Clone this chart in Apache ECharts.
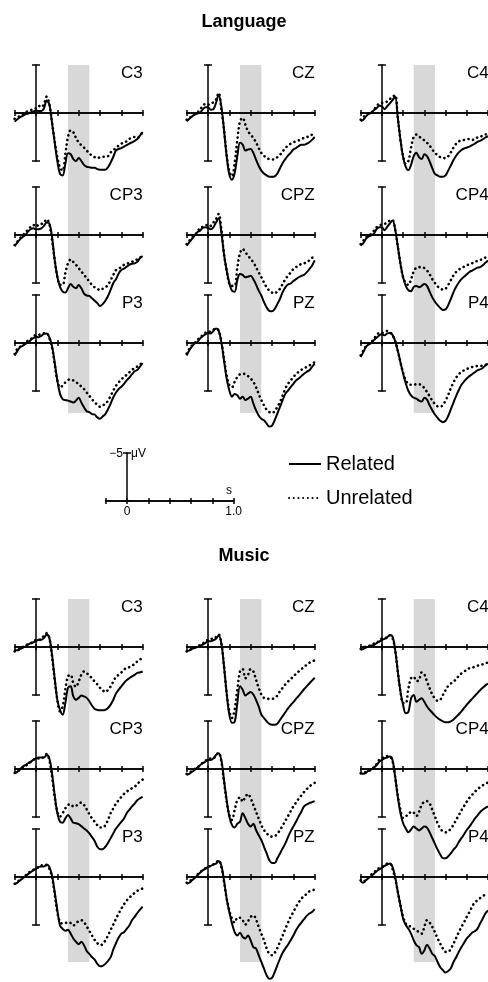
<!DOCTYPE html>
<html><head><meta charset="utf-8">
<script src="https://cdn.jsdelivr.net/npm/echarts@6/dist/echarts.min.js"></script>
<style>html,body{margin:0;padding:0;background:#fff}#c{width:488px;height:982px}</style>
</head><body><div id="c"></div>
<script>
// ---------- DATA ----------
const times = [-0.2,-0.175,-0.15,-0.125,-0.1,-0.075,-0.05,-0.025,0,0.025,0.05,0.075,0.1,0.125,0.15,0.175,0.2,0.225,0.25,0.275,0.3,0.325,0.35,0.375,0.4,0.425,0.45,0.475,0.5,0.525,0.55,0.575,0.6,0.625,0.65,0.675,0.7,0.725,0.75,0.775,0.8,0.825,0.85,0.875,0.9,0.925,0.95,0.975,1.0];
const sectionTitles = ['Language', 'Music'];
const electrodes = ['C3','CZ','C4','CP3','CPZ','CP4','P3','PZ','P4'];
const conditionNames = ['Related', 'Unrelated'];
const windowStart = 0.3, windowEnd = 0.5;   // shaded analysis window (s)
const scaleLabelsX = ['0', '1.0'];
const scaleLabelY = '\u22125';
const scaleUnitY = '\u03bcV';
const scaleUnitX = 's';

// Language (µV, negative up)
const langC3Rel  = [0.9,0.65,0.45,0.3,0.15,0.05,-0.05,-0.15,-0.25,-0.2,-0.2,-0.5,-1.3,-0.9,1.0,3.05,5.0,6.35,6.5,5.3,4.2,4.3,4.8,5.0,4.7,5.0,5.4,5.6,5.65,5.7,5.7,5.85,5.9,5.9,5.9,5.65,5.15,4.55,3.9,3.75,3.65,3.5,3.35,3.2,3.05,2.9,2.7,2.35,2.0];
const langC3Unr  = [0.6,0.45,0.3,0.1,-0.05,-0.2,-0.3,-0.4,-0.5,-0.75,-0.6,-0.95,-1.7,-0.95,1.0,2.9,4.6,5.7,6.0,4.3,2.5,1.8,2.0,2.6,3.05,3.35,3.6,3.9,4.2,4.45,4.6,4.7,4.6,4.55,4.55,4.5,4.1,3.9,3.6,3.4,3.2,3.05,2.95,2.7,2.6,2.5,2.6,2.35,2.0];
const langCZRel  = [0.85,0.6,0.35,0.15,0.05,-0.05,-0.35,-0.6,-0.6,-0.35,-0.4,-1.05,-1.9,-0.7,1.75,4.5,6.4,6.95,6.25,4.5,3.1,3.3,3.9,3.8,3.75,4.15,4.85,5.5,6.0,6.3,6.5,6.65,6.65,6.6,6.3,5.75,5.2,4.8,4.45,4.15,3.8,3.65,3.45,3.3,3.3,3.2,3.05,2.8,2.5];
const langCZUnr  = [0.7,0.5,0.35,0.15,-0.05,-0.35,-0.7,-0.95,-0.85,-1.05,-1.1,-1.4,-2.1,-0.4,1.7,4.4,6.1,6.6,5.2,2.8,0.85,0.5,1.2,1.9,2.25,2.6,3.05,3.65,4.15,4.45,4.7,4.8,4.85,4.8,4.6,4.35,4.0,3.65,3.4,3.2,3.05,2.95,2.85,2.7,2.6,2.5,2.45,2.25,2.1];
const langC4Rel  = [0.85,0.7,0.35,0.1,0,-0.3,-0.5,-0.75,-0.7,-0.4,-0.7,-1.0,-1.35,-1.7,0.5,2.8,4.6,5.6,5.95,5.4,4.5,4.15,4.6,4.8,4.3,4.5,5.05,5.75,6.35,6.5,6.65,6.65,6.5,6.0,5.45,4.9,4.45,4.1,3.85,3.7,3.6,3.5,3.35,3.2,3.0,2.9,2.75,2.55,2.4];
const langC4Unr  = [0.7,0.45,0.15,0,-0.05,-0.35,-0.7,-1.0,-1.05,-1.1,-1.2,-1.45,-1.7,-1.85,0.5,2.8,4.5,5.3,5.0,3.6,2.5,2.25,2.45,2.65,2.85,3.1,3.4,3.8,4.15,4.4,4.6,4.7,4.7,4.5,4.1,3.6,3.2,2.95,2.85,2.8,2.75,2.7,2.8,2.75,2.55,2.5,2.35,2.25,2.1];
const langCP3Rel = [1.15,0.8,0.45,0.2,0,-0.35,-0.6,-0.7,-0.6,-0.6,-0.7,-0.95,-1.3,-1.2,0.15,2.6,4.35,5.4,5.9,6.0,5.55,5.1,5.4,5.55,5.2,5.55,6.1,6.3,6.35,6.6,6.85,7.1,7.4,7.2,6.85,6.35,5.7,5.0,4.6,4.0,3.65,3.5,3.3,3.1,3.0,2.95,2.8,2.4,2.2];
const langCP3Unr = [1.05,0.7,0.35,0.05,-0.25,-0.55,-0.85,-1.05,-0.85,-1.1,-1.15,-1.3,-1.65,-1.15,0.5,2.6,4.35,5.2,5.2,4.0,2.95,2.55,2.8,3.1,3.45,3.8,4.15,4.5,4.85,5.2,5.45,5.6,5.75,5.6,5.45,5.2,4.7,4.15,3.65,3.5,3.35,3.1,3.0,2.9,2.8,2.6,2.55,2.35,2.2];
const langCPZRel = [1.1,0.75,0.4,0.05,-0.3,-0.45,-0.75,-0.8,-0.75,-0.6,-0.8,-1.3,-1.75,-0.3,2.0,3.7,5.0,5.8,5.9,4.7,4.05,4.15,4.4,4.35,4.25,4.6,5.15,5.8,6.3,7.0,7.55,7.9,7.95,7.7,7.2,6.65,5.95,5.45,5.15,5.05,4.8,4.6,4.4,4.25,4.15,3.9,3.55,3.2,2.65];
const langCPZUnr = [0.95,0.6,0.3,0,-0.3,-0.75,-0.85,-0.95,-1.1,-0.95,-1.3,-1.65,-2.2,-0.6,2.0,3.7,5.1,5.3,5.3,3.4,1.9,1.45,1.8,2.15,2.5,2.85,3.35,3.9,4.4,4.95,5.45,5.8,6.0,6.1,5.85,5.6,5.1,4.6,4.25,3.9,3.55,3.35,3.2,3.0,2.95,2.85,2.65,2.4,2.0];
const langCP4Rel = [1.1,0.85,0.4,0.15,0.05,-0.15,-0.6,-0.8,-0.8,-0.5,-0.85,-1.2,-1.5,-0.6,1.2,3.0,4.4,5.3,5.75,5.85,5.4,5.3,5.45,5.3,5.1,5.3,5.9,6.5,6.95,7.3,7.6,7.8,7.75,7.3,6.65,5.95,5.4,4.95,4.6,4.35,4.1,3.85,3.7,3.55,3.4,3.35,3.15,2.9,2.65];
const langCP4Unr = [0.95,0.6,0.25,0.05,-0.1,-0.45,-0.8,-0.95,-1.1,-1.15,-1.3,-1.5,-1.55,-0.6,1.2,3.0,4.4,5.0,5.2,4.6,3.8,3.4,3.35,3.35,3.45,3.7,4.1,4.6,5.0,5.35,5.55,5.7,5.6,5.2,4.7,4.2,3.85,3.6,3.45,3.3,3.15,3.05,2.95,2.8,2.7,2.6,2.5,2.35,2.15];
const langP3Rel  = [1.3,0.85,0.45,0.3,0.1,-0.05,-0.3,-0.5,-0.65,-0.6,-0.75,-0.95,-1.0,-0.6,0.3,2.0,3.9,5.3,5.85,5.95,6.0,6.1,6.2,6.0,5.7,6.2,6.7,7.1,7.2,7.4,7.45,7.75,7.9,7.65,7.4,6.9,6.3,5.65,5.15,4.8,4.55,4.25,3.9,3.6,3.25,2.95,2.8,2.45,2.1];
const langP3Unr  = [1.15,0.6,0.4,0.3,-0.05,-0.25,-0.4,-0.65,-0.85,-0.85,-0.95,-1.0,-1.0,-0.5,0.45,2.2,3.9,4.6,4.45,4.1,3.85,3.8,3.9,4.1,4.25,4.55,4.8,5.15,5.5,5.85,6.2,6.4,6.65,6.5,6.35,6.0,5.5,4.95,4.45,4.1,3.75,3.6,3.3,3.05,2.8,2.6,2.45,2.25,2.0];
const langPZRel  = [1.3,0.75,0.35,0.05,-0.1,-0.45,-0.7,-0.9,-1.05,-1.0,-1.25,-1.5,-1.3,-0.1,1.8,3.7,4.95,5.6,5.3,5.45,5.8,5.6,5.95,5.8,5.6,6.3,7.0,7.55,7.9,8.05,8.4,8.7,8.6,8.05,7.35,6.65,5.95,5.3,4.95,4.6,4.25,3.9,3.7,3.45,3.2,3.0,2.85,2.5,2.15];
const langPZUnr  = [1.1,0.6,0.25,0,-0.3,-0.6,-0.8,-1.05,-1.05,-1.25,-1.4,-1.5,-1.3,-0.2,1.65,3.35,4.4,4.6,4.05,3.55,3.25,3.2,3.25,3.45,3.7,4.05,4.6,5.3,5.95,6.5,6.95,7.2,7.3,7.1,6.65,6.15,5.45,4.75,4.25,3.9,3.55,3.25,3.0,2.8,2.65,2.5,2.35,2.15,2.0];
const langP4Rel  = [1.45,0.95,0.4,0.15,0,-0.3,-0.55,-0.8,-0.9,-0.8,-1.0,-1.05,-0.85,-0.2,0.8,2.0,3.2,4.2,5.0,5.45,5.7,5.8,6.0,6.1,5.7,5.9,6.5,7.0,7.45,7.8,8.1,8.25,8.1,7.6,6.9,6.2,5.5,4.9,4.35,4.0,3.7,3.45,3.25,3.05,2.85,2.75,2.6,2.35,2.15];
const langP4Unr  = [1.3,0.8,0.35,0.1,-0.1,-0.45,-0.8,-1.05,-1.05,-1.15,-1.25,-1.15,-0.8,-0.2,0.8,2.0,3.1,3.9,4.25,4.35,4.35,4.3,4.3,4.4,4.7,5.1,5.55,6.0,6.35,6.6,6.65,6.45,6.0,5.4,4.7,4.1,3.6,3.25,3.0,2.85,2.7,2.6,2.5,2.45,2.4,2.4,2.35,2.3,2.15];

// Music
const musC3Rel  = [0.35,0.35,0.2,0.1,-0.05,-0.25,-0.4,-0.5,-0.6,-0.75,-0.75,-0.95,-1.3,-0.95,0.8,3.25,5.5,6.55,7.05,5.85,4.25,4.1,5.15,5.5,5.3,5.05,5.15,5.3,5.65,6.1,6.45,6.55,6.6,6.6,6.55,6.35,6.0,5.5,4.85,4.45,4.1,3.75,3.45,3.25,3.05,2.9,2.7,2.65,2.55];
const musC3Unr  = [0.45,0.3,0.2,0,-0.15,-0.3,-0.4,-0.5,-0.75,-0.75,-0.85,-1.2,-1.45,-0.95,0.95,3.4,5.5,6.7,6.2,4.45,3.05,2.9,3.75,4.15,3.6,2.9,2.55,2.7,3.0,3.25,3.6,3.9,4.25,4.5,4.7,4.45,4.1,3.6,3.1,2.9,2.65,2.35,2.2,2.1,1.95,1.75,1.5,1.3,1.15];
const musCZRel  = [0.45,0.35,0.2,0.1,0,-0.15,-0.25,-0.4,-0.6,-0.6,-0.7,-0.85,-1.2,-0.4,2.0,4.8,7.05,7.9,7.8,5.85,4.1,4.45,5.05,4.85,4.7,4.95,5.5,6.2,7.05,7.4,7.75,8.0,8.1,8.1,8.0,7.6,7.2,6.8,6.4,6.05,5.75,5.4,5.1,4.75,4.4,4.1,3.8,3.5,3.2];
const musCZUnr  = [0.45,0.3,0.2,0.05,-0.05,-0.2,-0.35,-0.6,-0.75,-0.85,-0.85,-1.05,-1.3,-0.4,2.0,4.8,6.7,7.4,6.5,4.45,2.55,2.3,3.25,2.9,2.3,2.55,3.4,4.25,4.95,5.3,5.4,5.4,5.4,5.3,5.05,4.6,4.25,3.9,3.6,3.35,3.05,2.8,2.55,2.3,2.1,1.85,1.65,1.5,1.4];
const musC4Rel  = [0.3,0.2,0.05,-0.05,-0.15,-0.2,-0.4,-0.55,-0.75,-0.85,-1.0,-1.25,-1.1,0.3,2.55,4.65,6.05,6.9,6.75,5.35,5.0,5.7,5.5,5.35,5.7,6.2,6.55,6.85,7.15,7.4,7.6,7.75,7.85,7.85,7.75,7.55,7.3,7.0,6.7,6.35,6.0,5.7,5.4,5.1,4.8,4.5,4.25,4.0,3.8];
const musC4Unr  = [0.2,0.1,-0.05,-0.1,-0.2,-0.35,-0.5,-0.6,-0.9,-0.95,-0.95,-1.2,-0.95,0.3,2.55,4.65,5.85,5.85,4.3,3.25,3.1,3.55,3.45,2.65,2.85,3.6,4.3,4.95,5.35,5.6,5.5,5.0,4.5,4.05,3.8,3.6,3.35,3.0,2.75,2.55,2.4,2.2,2.15,2.05,1.95,1.9,1.8,1.7,1.6];
const musCP3Rel = [0.45,0.3,0.05,-0.25,-0.4,-0.6,-0.75,-0.95,-1.1,-1.2,-1.2,-1.2,-1.45,-1.1,0.45,2.7,4.6,5.5,5.6,5.15,4.8,5.15,5.6,5.65,5.75,5.95,6.2,6.4,6.7,7.1,7.5,8.1,8.35,8.35,8.1,7.7,7.2,6.7,6.2,5.85,5.5,5.15,4.6,4.25,3.9,3.6,3.25,3.05,2.9];
const musCP3Unr = [0.4,0.25,0.1,-0.1,-0.3,-0.5,-0.75,-0.95,-1.1,-1.1,-1.1,-1.3,-1.55,-0.95,0.75,2.9,4.45,4.95,4.6,4.1,3.75,3.65,3.9,3.85,3.6,3.5,3.75,4.2,4.7,5.15,5.5,5.85,6.1,6.1,5.85,5.3,4.6,4.1,3.6,3.25,2.9,2.6,2.35,2.2,2.0,1.85,1.55,1.3,1.1];
const musCPZRel = [0.6,0.5,0.3,0.1,-0.15,-0.4,-0.6,-0.75,-0.95,-0.95,-1.1,-1.45,-1.65,-0.95,1.15,3.25,4.95,5.85,6.1,5.7,5.5,4.6,5.1,5.7,6.0,5.7,6.35,6.9,7.4,8.1,8.8,9.5,9.8,9.8,9.3,8.8,8.25,7.75,7.1,6.5,6.0,5.5,4.95,4.45,3.9,3.7,3.55,3.45,3.35];
const musCPZUnr = [0.5,0.35,0.2,0,-0.15,-0.4,-0.65,-0.85,-1.0,-1.1,-1.1,-1.45,-1.7,-0.75,1.3,3.4,4.8,5.3,4.25,3.25,2.95,3.4,2.9,2.6,3.05,3.75,4.45,5.15,5.85,6.35,6.7,6.95,7.05,7.0,6.75,6.35,5.9,5.4,4.9,4.4,3.9,3.5,3.1,2.75,2.4,2.1,1.85,1.6,1.45];
const musCP4Rel = [0.45,0.5,0.4,0.15,0.05,-0.15,-0.4,-0.75,-0.95,-1.1,-1.2,-1.3,-0.95,0.8,2.9,4.6,5.65,6.2,6.6,6.3,6.0,6.2,6.4,6.2,6.0,6.1,6.6,7.2,7.8,8.4,8.9,9.3,9.3,9.1,8.8,8.4,8.1,7.6,7.2,6.8,6.35,6.0,5.6,5.2,4.85,4.5,4.25,4.05,3.9];
const musCP4Unr = [0.45,0.4,0.3,0.2,0.1,-0.2,-0.5,-0.95,-1.1,-1.3,-1.35,-1.3,-0.85,0.8,2.8,4.25,5.1,4.9,4.8,4.45,4.55,4.9,4.45,3.75,3.4,3.35,3.6,4.25,4.95,5.65,6.2,6.5,6.6,6.5,6.2,5.8,5.3,4.8,4.3,3.85,3.4,3.0,2.7,2.4,2.1,1.9,1.7,1.55,1.4];
const musP3Rel  = [0.75,0.6,0.35,0.15,-0.05,-0.3,-0.5,-0.7,-0.85,-1.05,-1.1,-1.1,-1.3,-1.05,-0.15,1.55,3.45,5.05,5.4,5.6,5.5,5.9,6.4,6.75,7.0,6.75,7.1,7.7,8.0,8.35,8.6,9.05,9.3,9.25,9.05,8.75,8.35,7.55,6.9,6.3,5.9,5.75,5.4,5.05,4.5,4.15,3.75,3.4,3.1];
const musP3Unr  = [0.7,0.5,0.3,0.05,-0.15,-0.4,-0.6,-0.75,-0.85,-1.05,-1.2,-1.3,-1.2,-0.85,0,1.75,3.65,4.7,4.85,4.8,4.7,4.8,5.05,4.8,4.6,4.5,4.7,5.15,5.6,6.1,6.55,6.9,7.1,7.0,6.6,6.1,5.5,4.95,4.35,3.8,3.3,2.85,2.45,2.15,1.9,1.65,1.45,1.3,1.2];
const musPZRel  = [0.7,0.6,0.35,0.1,-0.15,-0.45,-0.7,-0.85,-1.05,-1.15,-1.3,-1.4,-1.65,-1.2,0.35,2.25,3.65,4.85,5.75,6.1,5.8,6.25,6.4,6.1,6.6,7.3,7.45,8.15,8.85,9.55,10.25,10.6,10.5,9.9,9.2,8.5,7.9,7.45,7.05,6.6,6.1,5.55,5.1,4.75,4.4,4.05,3.8,3.65,3.35];
const musPZUnr  = [0.6,0.45,0.25,0,-0.25,-0.5,-0.7,-0.9,-1.05,-1.15,-1.3,-1.5,-1.75,-1.05,0.5,2.25,3.5,4.35,4.75,4.25,4.25,4.5,4.95,4.6,4.15,4.0,4.4,5.2,5.9,6.6,7.45,8.0,8.15,7.9,7.4,6.75,6.1,5.4,4.75,4.15,3.65,3.1,2.65,2.25,2.0,1.75,1.5,1.4,1.3];
const musP4Rel  = [0.45,0.6,0.35,0.1,-0.1,-0.35,-0.6,-0.8,-0.95,-1.15,-1.3,-1.4,-1.05,0,1.55,2.95,4.35,5.0,5.4,5.9,6.6,7.1,7.3,8.0,7.65,7.05,7.45,8.0,8.25,8.85,9.4,9.7,9.95,9.8,9.5,8.85,8.35,7.8,7.3,6.85,6.4,6.1,5.8,5.65,5.4,4.85,4.35,3.8,3.5];
const musP4Unr  = [0.35,0.5,0.25,0,-0.25,-0.5,-0.7,-0.95,-1.05,-1.2,-1.4,-1.4,-0.85,0.15,1.55,2.95,4.15,4.85,5.05,5.2,5.4,5.55,5.75,5.9,5.2,4.5,4.75,5.2,5.75,6.4,6.95,7.45,7.8,7.8,7.45,6.95,6.35,5.75,5.2,4.7,4.15,3.65,3.1,2.65,2.45,2.2,2.0,1.85,1.75];

const sectionData = {
  Language: [[langC3Rel,langC3Unr],[langCZRel,langCZUnr],[langC4Rel,langC4Unr],[langCP3Rel,langCP3Unr],[langCPZRel,langCPZUnr],[langCP4Rel,langCP4Unr],[langP3Rel,langP3Unr],[langPZRel,langPZUnr],[langP4Rel,langP4Unr]],
  Music:    [[musC3Rel,musC3Unr],[musCZRel,musCZUnr],[musC4Rel,musC4Unr],[musCP3Rel,musCP3Unr],[musCPZRel,musCPZUnr],[musCP4Rel,musCP4Unr],[musP3Rel,musP3Unr],[musPZRel,musPZUnr],[musP4Rel,musP4Unr]]
};

// ---------- LAYOUT ----------
const FONT = '"Liberation Sans", Arial, Helvetica, sans-serif';
const PX_S = 106.67, PX_UV = 9.6;
const colX = [36, 208, 382];
const rowY = { Language: [113, 235, 343], Music: [647, 769, 877] };
const bandBottom = { Language: 413, Music: 962 };
const titleY = { Language: 22, Music: 556 };
const AX = { color: '#000', width: 1.5 };

const grid = [], xAxis = [], yAxis = [], series = [], graphic = [];

function txt(x, y, text, font, align) {
  return { type: 'text', x: x, y: y, z: 20, silent: true,
    style: { text: text, font: font, fill: '#000', textAlign: align, align: align, textVerticalAlign: 'middle', verticalAlign: 'middle' } };
}

function addBand(ax, top, bottom) {
  const g = grid.length;
  grid.push({ left: ax - 0.2 * PX_S, top: top, width: 1.2 * PX_S, height: bottom - top });
  const xi = xAxis.length, yi = yAxis.length;
  xAxis.push({ gridIndex: g, type: 'value', min: -0.2, max: 1.0, show: false });
  yAxis.push({ gridIndex: g, type: 'value', min: 0, max: 1, show: false });
  series.push({ type: 'line', xAxisIndex: xi, yAxisIndex: yi, data: [[windowStart, 0.5], [windowEnd, 0.5]],
    symbol: 'none', lineStyle: { opacity: 0 }, silent: true, z: 1,
    markArea: { silent: true, itemStyle: { color: '#d8d8d8' }, data: [[{ xAxis: windowStart }, { xAxis: windowEnd }]] } });
}

function addAxes(g, yMin, yMax, withLabels) {
  const xiA = xAxis.length, xiB = xiA + 1, yi = yAxis.length;
  const base = { gridIndex: g, type: 'value', min: -0.2, max: 1.0, interval: 0.2, position: 'bottom', z: 5,
    splitLine: { show: false } };
  xAxis.push(Object.assign({}, base, {
    axisLine: { show: true, onZero: true, onZeroAxisIndex: yi, lineStyle: AX },
    axisTick: { show: true, inside: true, length: 3, lineStyle: AX },
    axisLabel: { show: false } }));
  xAxis.push(Object.assign({}, base, {
    axisLine: { show: true, onZero: true, onZeroAxisIndex: yi, lineStyle: AX },
    axisTick: { show: true, inside: false, length: 3, lineStyle: AX },
    axisLabel: withLabels ? { show: true, color: '#000', fontSize: 12, fontFamily: FONT, margin: 5,
      formatter: v => (Math.abs(v) < 1e-9 ? scaleLabelsX[0] : (Math.abs(v - 1) < 1e-9 ? scaleLabelsX[1] : '')) } : { show: false } }));
  yAxis.push({ gridIndex: g, type: 'value', min: yMin, max: yMax, interval: 5, inverse: true, position: 'left', z: 5,
    axisLine: { show: true, onZero: true, onZeroAxisIndex: xiA, lineStyle: AX, symbol: ['rect', 'rect'], symbolSize: [8, 1.5] },
    axisTick: { show: false }, splitLine: { show: false }, axisLabel: { show: false } });
  return { xi: xiA, yi: yi };
}

sectionTitles.forEach(sec => {
  colX.forEach(ax => addBand(ax, rowY[sec][0] - 5 * PX_UV, bandBottom[sec]));
  graphic.push(txt(244, titleY[sec], sec, 'bold 18px ' + FONT, 'center'));
  electrodes.forEach((el, k) => {
    const ax = colX[k % 3], ay = rowY[sec][Math.floor(k / 3)];
    const g = grid.length;
    grid.push({ left: ax - 0.2 * PX_S, top: ay - 5 * PX_UV, width: 1.2 * PX_S, height: 10 * PX_UV });
    const ids = addAxes(g, -5, 5, false);
    const pair = sectionData[sec][k];
    pair.forEach((vals, c) => {
      series.push({ name: conditionNames[c], type: 'line', xAxisIndex: ids.xi, yAxisIndex: ids.yi,
        data: times.map((t, i) => [t, vals[i]]), symbol: 'none', showSymbol: false, smooth: 0.35, clip: false,
        silent: true, z: 10, itemStyle: { color: '#000' },
        lineStyle: c === 0 ? { color: '#000', width: 2 } : { color: '#000', width: 2.6, type: [0.1, 4.6], cap: 'round' } });
    });
    graphic.push(txt(ax + 1.0 * PX_S, ay - 40, el, '17px ' + FONT, 'right'));
  });
});

// scale bar
(function () {
  const ax = 127, ay = 501;
  const g = grid.length;
  grid.push({ left: ax - 0.2 * PX_S, top: ay - 5 * PX_UV, width: 1.2 * PX_S, height: 5 * PX_UV });
  addAxes(g, -5, 0, true);
  graphic.push(txt(123, 454, scaleLabelY, '12px ' + FONT, 'right'));
  graphic.push(txt(131, 454, scaleUnitY, '12px ' + FONT, 'left'));
  graphic.push(txt(229, 491, scaleUnitX, '12px ' + FONT, 'center'));
})();

const chart = echarts.init(document.getElementById('c'), null, { renderer: 'canvas' });
chart.setOption({
  animation: false,
  backgroundColor: '#fff',
  grid: grid, xAxis: xAxis, yAxis: yAxis, series: series, graphic: graphic,
  legend: { data: conditionNames, orient: 'vertical', left: 288, top: 454, padding: 0,
    itemWidth: 32, itemHeight: 14, itemGap: 14, selectedMode: false,
    itemStyle: { opacity: 0 },
    textStyle: { color: '#000', fontSize: 20, fontFamily: FONT, lineHeight: 20 } }
});
</script></body></html>
